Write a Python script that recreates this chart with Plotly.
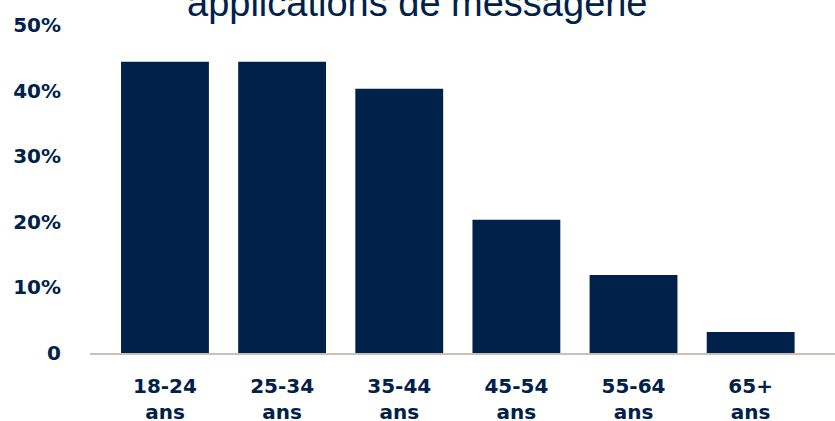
import plotly.graph_objects as go

categories = ["18-24<br>ans", "25-34<br>ans", "35-44<br>ans", "45-54<br>ans", "55-64<br>ans", "65+<br>ans"]
values = [44.4, 44.4, 40.3, 20.3, 11.9, 3.2]
y_tickvals = [0, 10, 20, 30, 40, 50]
y_ticktext = ["0", "10%", "20%", "30%", "40%", "50%"]
title_text = "applications de messagerie"

NAVY = "#00214a"
TICKFONT = dict(family="DejaVu Sans", size=20, color=NAVY, weight="bold")

fig = go.Figure(go.Bar(x=list(range(len(categories))), y=values, marker_color=NAVY,
                       marker_line_width=0, hoverinfo="skip"))

fig.update_layout(
    width=835, height=421,
    margin=dict(l=90, r=0, t=25, b=68, autoexpand=False),
    paper_bgcolor="white", plot_bgcolor="white",
    bargap=0.25,
    showlegend=False,
    font=dict(family="DejaVu Sans", color=NAVY),
)
fig.update_xaxes(
    range=[-0.64, 5.72],
    tickvals=list(range(len(categories))), ticktext=categories,
    tickfont=TICKFONT,
    showline=True, linecolor="#c9c0b7", linewidth=2,
    showgrid=False, zeroline=False, ticks="",
    ticklabelstandoff=14, automargin=False,
)
fig.update_yaxes(
    range=[0, 50],
    tickvals=y_tickvals, ticktext=y_ticktext,
    tickfont=TICKFONT,
    showgrid=False, zeroline=False, showline=False, ticks="",
    ticklabelstandoff=28, automargin=False,
)
fig.add_annotation(
    text=title_text, xref="paper", yref="paper", x=(417 - 90) / 745, y=(353 - 14) / 328,
    xanchor="center", yanchor="bottom", showarrow=False, yshift=-12,
    font=dict(family="Liberation Sans", size=38, color=NAVY),
)
fig.write_html("out.html", config={"displayModeBar": False},
               post_script="document.body.style.margin='0px';")
